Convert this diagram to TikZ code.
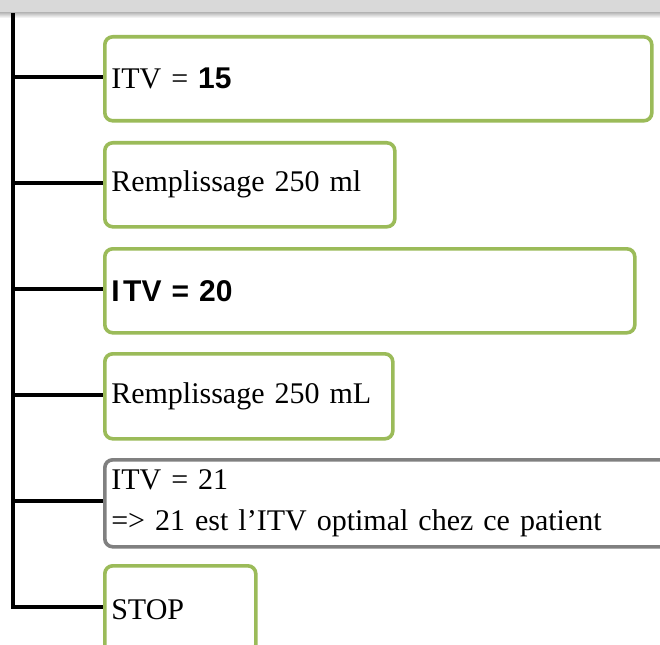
\documentclass[tikz,border=0pt]{standalone}
\usepackage{fontspec}
\setmainfont{Liberation Serif}
\newfontfamily\arialf{Liberation Sans}
\definecolor{boxgreen}{RGB}{155,187,89}
\definecolor{boxgray}{RGB}{128,128,128}
\definecolor{bandgray}{RGB}{217,217,217}
\begin{document}
\begin{tikzpicture}[x=1pt,y=-1pt,
  stepbox/.style={draw=boxgreen, line width=3.6pt, rounded corners=8pt, fill=white,
    anchor=north west, inner xsep=6.5pt, inner ysep=0pt, align=left,
    font=\fontsize{30}{41}\selectfont},
  graybox/.style={stepbox, draw=boxgray},
  branch/.style={line width=3.6pt, black},
]
\useasboundingbox (0,0) rectangle (660,644);
\clip (0,0) rectangle (660,644);
\fill[white] (0,0) rectangle (660,644);
% top band
\fill[bandgray] (0,0) rectangle (660,13);
\shade[top color=black!25, bottom color=white] (0,13) rectangle (660,18);

\node[stepbox, minimum height=84pt, text width=534pt] (b1) at (103,35) {ITV = {\arialf\bfseries 15}};
\node[stepbox, minimum height=84pt, text width=277pt] (b2) at (103,141) {Remplissage 250 ml};
\node[stepbox, minimum height=84pt, text width=517pt] (b3) at (103,247) {{\arialf\bfseries I\kern0.12em TV = 20}};
\node[stepbox, minimum height=85pt, text width=275pt] (b4) at (103,352) {Remplissage 250 mL};
\node[graybox, minimum height=87pt, text width=600pt] (b5) at (103,458) {ITV = 21\\[0pt]=> 21 est l’ITV optimal chez ce patient};
\node[stepbox, minimum height=87pt, text width=138pt] (b6) at (103,564) {STOP};

\coordinate (top) at (13,13);
\coordinate (t1) at (13,77);
\coordinate (t2) at (13,183);
\coordinate (t3) at (13,289);
\coordinate (t4) at (13,395);
\coordinate (t5) at (13,501);
\coordinate (t6) at (13,607);

\draw[branch] (top) -- ([yshift=-1.8pt]t6);
\draw[branch] (t1) -- (t1 -| b1.west);
\draw[branch] (t2) -- (t2 -| b2.west);
\draw[branch] (t3) -- (t3 -| b3.west);
\draw[branch] (t4) -- (t4 -| b4.west);
\draw[branch] (t5) -- (t5 -| b5.west);
\draw[branch] ([xshift=-1.8pt]t6) -- (t6 -| b6.west);
\end{tikzpicture}
\end{document}
